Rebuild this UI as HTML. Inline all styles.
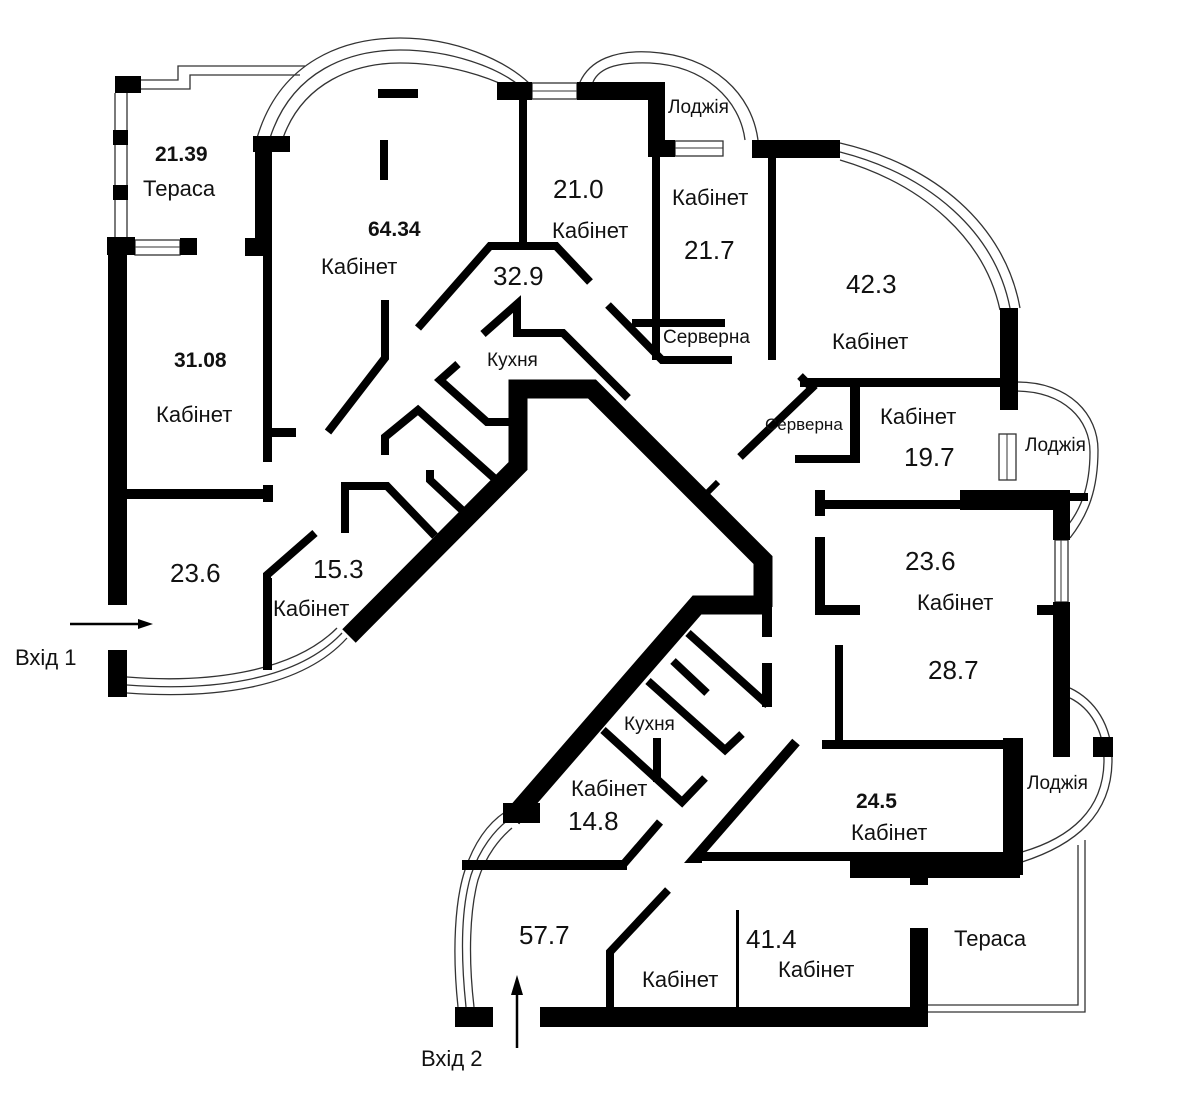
<!DOCTYPE html>
<html><head><meta charset="utf-8"><style>
html,body{margin:0;padding:0;background:#fff;}
svg{display:block;}
text{font-family:"Liberation Sans",sans-serif;fill:#111;}
.t{font-size:22px;}
.n{font-size:26px;}
.b{font-size:21px;font-weight:bold;}
.s{font-size:19px;}
.w{stroke:#000;fill:none;stroke-linecap:butt;stroke-linejoin:miter;}
.th{stroke:#333;fill:none;stroke-width:1.3;}
</style></head><body>
<svg width="1200" height="1102" viewBox="0 0 1200 1102" xmlns="http://www.w3.org/2000/svg">
<rect width="1200" height="1102" fill="#fff"/>

<path class="th" d="M141,80 H178 V66 H305 M141,89 H190 V75 H300"/>
<path class="th" d="M115,93 V237 M127,93 V237"/>
<path class="th" d="M257,138 C280,60 345,38 400,38 C455,38 505,60 530,84"/>
<path class="th" d="M270,138 C292,70 350,50 400,50 C452,50 498,68 520,86"/>
<path class="th" d="M283,138 C303,82 355,63 400,63 C450,63 490,78 510,88"/>
<path class="th" d="M580,82 C590,60 615,50 650,52 C715,56 752,95 758,140"/>
<path class="th" d="M593,82 C600,66 622,62 650,63 C705,66 740,100 745,140"/>
<path class="th" d="M840,143 C935,165 1005,225 1020,308"/>
<path class="th" d="M840,152 C930,175 995,232 1010,308"/>
<path class="th" d="M840,160 C925,185 985,240 1000,310"/>
<path class="th" d="M1017,382 C1070,382 1098,415 1098,450 C1098,490 1088,515 1070,538"/>
<path class="th" d="M1017,391 C1065,392 1090,420 1090,452 C1090,488 1080,512 1064,530"/>
<path class="th" d="M1070,688 C1095,700 1112,725 1112,760 C1112,815 1075,845 1022,862"/>
<path class="th" d="M1070,698 C1090,708 1104,730 1104,760 C1104,810 1070,838 1022,852"/>
<path class="th" d="M1078,845 V1005 H927 M1085,840 V1012 H927"/>
<path class="th" d="M127,677 C200,683 290,675 337,628"/>
<path class="th" d="M127,685 C205,691 295,683 342,633"/>
<path class="th" d="M127,693 C210,699 300,690 347,638"/>
<path class="th" d="M458,1007 C452,950 455,900 465,870 C475,840 490,822 505,812"/>
<path class="th" d="M466,1007 C460,950 462,905 471,875 C480,848 495,830 508,820"/>
<path class="th" d="M474,1007 C468,955 470,910 478,880 C486,855 500,838 512,828"/>
<rect x="135" y="240" width="45" height="15" fill="#fff" stroke="#333" stroke-width="1.3"/>
<line x1="135" y1="247" x2="180" y2="247" stroke="#333" stroke-width="1"/>
<rect x="532" y="83" width="45" height="16" fill="#fff" stroke="#333" stroke-width="1.3"/>
<line x1="532" y1="91" x2="577" y2="91" stroke="#333" stroke-width="1"/>
<rect x="675" y="141" width="48" height="15" fill="#fff" stroke="#333" stroke-width="1.3"/>
<line x1="675" y1="148" x2="723" y2="148" stroke="#333" stroke-width="1"/>
<rect x="999" y="434" width="17" height="46" fill="#fff" stroke="#333" stroke-width="1.3"/>
<line x1="1007" y1="434" x2="1007" y2="480" stroke="#333" stroke-width="1"/>
<rect x="1055" y="540" width="13" height="62" fill="#fff" stroke="#333" stroke-width="1.3"/>
<line x1="1061" y1="540" x2="1061" y2="602" stroke="#333" stroke-width="1"/>

<g fill="#000">
<rect x="115" y="76" width="26" height="17"/>
<rect x="113" y="130" width="15" height="15"/>
<rect x="113" y="185" width="15" height="15"/>
<rect x="107" y="237" width="28" height="18"/>
<rect x="180" y="238" width="17" height="17"/>
<rect x="108" y="237" width="19" height="368"/>
<rect x="108" y="650" width="19" height="47"/>
<rect x="253" y="136" width="37" height="16"/>
<rect x="255" y="136" width="17" height="120"/>
<rect x="245" y="238" width="27" height="18"/>
<rect x="263" y="255" width="9" height="207"/>
<rect x="263" y="428" width="33" height="9"/>
<rect x="127" y="489" width="146" height="10"/>
<rect x="263" y="485" width="10" height="17"/>
<rect x="378" y="89" width="40" height="9"/>
<rect x="380" y="140" width="8" height="40"/>
<rect x="497" y="82" width="35" height="18"/>
<rect x="577" y="82" width="88" height="18"/>
<rect x="648" y="82" width="17" height="75"/>
<rect x="648" y="140" width="27" height="17"/>
<rect x="519" y="98" width="8" height="148"/>
<rect x="652" y="155" width="8" height="205"/>
<rect x="752" y="140" width="88" height="18"/>
<rect x="768" y="155" width="8" height="205"/>
<rect x="1000" y="308" width="18" height="102"/>
<rect x="800" y="378" width="217" height="9"/>
<rect x="850" y="386" width="10" height="77"/>
<rect x="795" y="455" width="65" height="8"/>
<rect x="815" y="490" width="10" height="26"/>
<rect x="825" y="500" width="245" height="9"/>
<rect x="960" y="490" width="110" height="20"/>
<rect x="1053" y="490" width="17" height="50"/>
<rect x="1070" y="493" width="18" height="8"/>
<rect x="1053" y="602" width="17" height="155"/>
<rect x="1037" y="605" width="16" height="10"/>
<rect x="815" y="537" width="10" height="78"/>
<rect x="815" y="605" width="45" height="10"/>
<rect x="835" y="645" width="8" height="100"/>
<rect x="822" y="740" width="200" height="9"/>
<rect x="1003" y="738" width="20" height="137"/>
<rect x="1093" y="737" width="20" height="20"/>
<rect x="700" y="852" width="320" height="9"/>
<rect x="850" y="852" width="170" height="26"/>
<rect x="910" y="870" width="18" height="15"/>
<rect x="910" y="928" width="18" height="97"/>
<rect x="540" y="1007" width="388" height="20"/>
<rect x="455" y="1007" width="38" height="20"/>
<rect x="736" y="910" width="3" height="100"/>
<rect x="462" y="860" width="165" height="10"/>
<rect x="503" y="803" width="37" height="20"/>
<rect x="762" y="580" width="10" height="57"/>
<rect x="762" y="663" width="10" height="44"/>
<rect x="263" y="578" width="9" height="92"/>
</g>

<polyline class="w" stroke-width="19" points="349,636 518,466 518,389 592,389 763,560 763,607"/>
<polyline class="w" stroke-width="19" points="771,605 697,605 512,818"/>
<polyline class="w" stroke-width="8" points="385,300 385,358 328,432"/>
<polyline class="w" stroke-width="8" points="418,328 490,246 556,246 590,282"/>
<polyline class="w" stroke-width="8" points="483,334 517,304 517,333 563,333 628,398"/>
<polyline class="w" stroke-width="8" points="458,364 440,380 487,422 512,422"/>
<polyline class="w" stroke-width="8" points="385,455 385,437 418,410 494,478"/>
<polyline class="w" stroke-width="8" points="430,470 430,480 462,510"/>
<polyline class="w" stroke-width="8" points="345,533 345,486 387,486 435,536"/>
<polyline class="w" stroke-width="8" points="267,580 267,575 315,533"/>
<polyline class="w" stroke-width="8" points="608,305 662,360 732,360"/>
<line class="w" stroke-width="8" x1="632" y1="323" x2="725" y2="323"/>
<polyline class="w" stroke-width="8" points="740,457 812,388 800,376"/>
<line class="w" stroke-width="6" x1="706" y1="494" x2="718" y2="482"/>
<line class="w" stroke-width="8" x1="688" y1="633" x2="768" y2="705"/>
<line class="w" stroke-width="8" x1="673" y1="661" x2="707" y2="693"/>
<polyline class="w" stroke-width="8" points="648,681 725,750 742,734"/>
<polyline class="w" stroke-width="8" points="603,730 682,802 705,778"/>
<line class="w" stroke-width="8" x1="657" y1="738" x2="657" y2="782"/>
<polyline class="w" stroke-width="10" points="796,742 695,858 702,858"/>
<line class="w" stroke-width="8" x1="622" y1="866" x2="660" y2="822"/>
<polyline class="w" stroke-width="8" points="668,890 610,952 610,1010"/>

<line x1="70" y1="624" x2="140" y2="624" stroke="#000" stroke-width="2.5"/>
<polygon points="153,624 138,619 138,629" fill="#000"/>
<line x1="517" y1="1048" x2="517" y2="990" stroke="#000" stroke-width="2.5"/>
<polygon points="517,975 511,995 523,995" fill="#000"/>

<text class="b" x="155" y="161">21.39</text>
<text class="t" x="143" y="196">Тераса</text>
<text class="b" x="368" y="236">64.34</text>
<text class="t" x="321" y="274">Кабінет</text>
<text class="b" x="174" y="367">31.08</text>
<text class="t" x="156" y="422">Кабінет</text>
<text class="n" x="170" y="582">23.6</text>
<text class="n" x="313" y="578">15.3</text>
<text class="t" x="273" y="616">Кабінет</text>
<text class="t" x="15" y="665">Вхід 1</text>
<text class="n" x="553" y="198">21.0</text>
<text class="t" x="552" y="238">Кабінет</text>
<text class="n" x="493" y="285">32.9</text>
<text class="s" x="487" y="366">Кухня</text>
<text class="s" x="668" y="113">Лоджія</text>
<text class="t" x="672" y="205">Кабінет</text>
<text class="n" x="684" y="259">21.7</text>
<text class="s" x="663" y="343">Серверна</text>
<text class="n" x="846" y="293">42.3</text>
<text class="t" x="832" y="349">Кабінет</text>
<text class="t" x="880" y="424">Кабінет</text>
<text class="s" x="765" y="430" style="font-size:17px">Серверна</text>
<text class="n" x="904" y="466">19.7</text>
<text class="s" x="1025" y="451">Лоджія</text>
<text class="n" x="905" y="570">23.6</text>
<text class="t" x="917" y="610">Кабінет</text>
<text class="n" x="928" y="679">28.7</text>
<text class="s" x="1027" y="789">Лоджія</text>
<text class="s" x="624" y="730">Кухня</text>
<text class="t" x="571" y="796">Кабінет</text>
<text class="n" x="568" y="830">14.8</text>
<text class="b" x="856" y="808">24.5</text>
<text class="t" x="851" y="840">Кабінет</text>
<text class="n" x="519" y="944">57.7</text>
<text class="n" x="746" y="948">41.4</text>
<text class="t" x="954" y="946">Тераса</text>
<text class="t" x="778" y="977">Кабінет</text>
<text class="t" x="642" y="987">Кабінет</text>
<text class="t" x="421" y="1066">Вхід 2</text>
</svg>
</body></html>
